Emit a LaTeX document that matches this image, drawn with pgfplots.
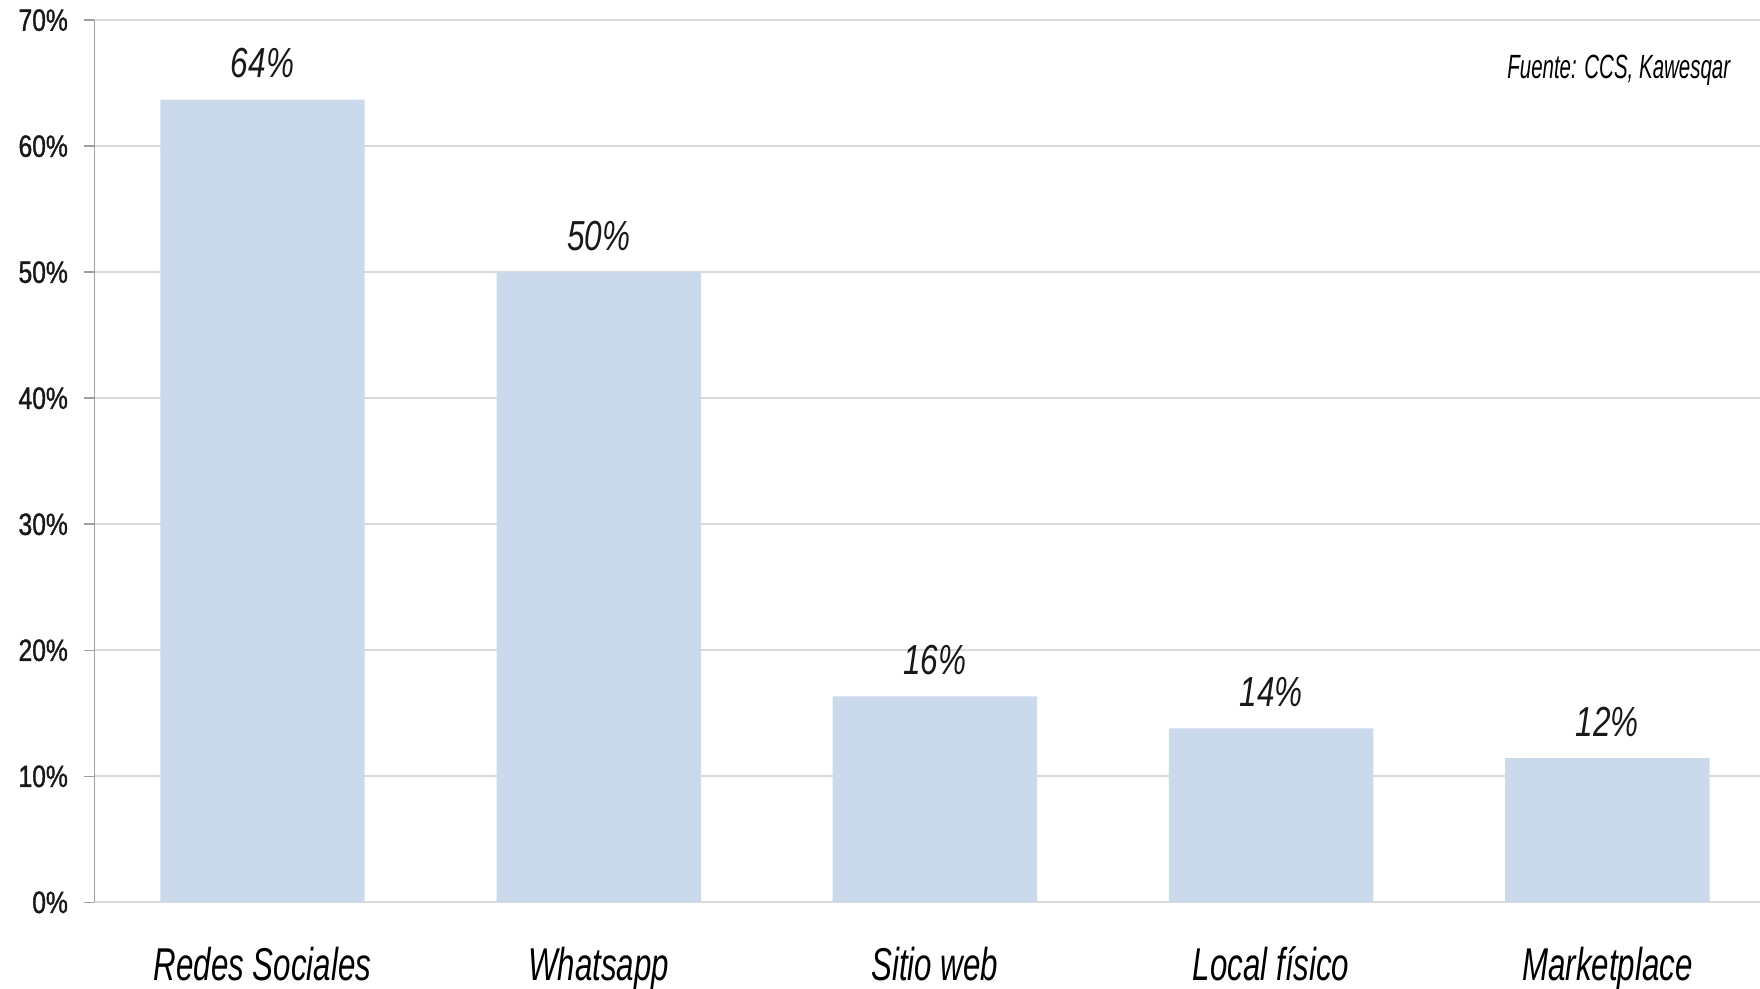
\documentclass[border=0pt]{standalone}
\usepackage{pgfplots}
\pgfplotsset{compat=1.18}
\usepackage{fontspec}
\setmainfont{Liberation Sans}[FakeStretch=0.68]
\newfontfamily\tickfont{Liberation Sans}[FakeStretch=0.8, FakeBold=1.2]
\newfontfamily\labfont{Liberation Sans}[FakeStretch=0.75]
\newfontfamily\srcfont{Liberation Sans}[FakeStretch=0.61]

\definecolor{barblue}{HTML}{CBD9EC}
\definecolor{gridgray}{HTML}{D9D9D9}
\definecolor{axisgray}{HTML}{A0A0A0}

\begin{document}
\begin{tikzpicture}
\begin{axis}[
  scale only axis,
  width=416.4pt, height=220.55pt,
  xmin=-0.5, xmax=4.454,
  ymin=0, ymax=70,
  axis x line*=bottom,
  axis y line*=left,
  x axis line style={gridgray, line width=0.5pt},
  y axis line style={axisgray, line width=0.4pt},
  tick align=outside,
  xtick={0,1,2,3,4},
  xticklabels={Redes Sociales, Whatsapp, Sitio web, Local físico, Marketplace},
  x tick style={draw=none},
  minor xtick={-0.5,0.5,1.5,2.5,3.5},
  minor x tick style={gridgray, line width=0.5pt},
  minor tick length=3.75pt,
  ytick={0,10,...,70},
  /pgf/number format/assume math mode=true,
  yticklabel={\pgfmathprintnumber{\tick}\%},
  y tick style={axisgray, line width=0.4pt},
  major tick length=2.5pt,
  ymajorgrids,
  grid style={gridgray, line width=0.5pt},
  xticklabel style={font=\itshape\fontsize{11.5}{13}\selectfont, anchor=base, yshift=-17pt, text=black},
  yticklabel style={font=\tickfont\fontsize{7.7}{9}\selectfont, anchor=east, xshift=-0.6pt, text=black!90},
  ybar, bar width=0.608,
  point meta=explicit symbolic,
  nodes near coords,
  every node near coord/.append style={font=\labfont\itshape\fontsize{10.5}{12}\selectfont, anchor=south, inner sep=0pt, yshift=5.25pt, text=black!90},
  clip=false,
]
\addplot[fill=barblue, draw=none] coordinates {
  (0,63.7) [64\%]
  (1,50.0) [50\%]
  (2,16.35) [16\%]
  (3,13.8) [14\%]
  (4,11.45) [12\%]
};
\node[anchor=base east, inner sep=0pt, font=\srcfont\itshape\fontsize{8.4}{10}\selectfont]
  at ([xshift=-7.25pt, yshift=-14.5pt]rel axis cs:1,1) {Fuente: CCS, Kawesqar};
\end{axis}
\pgfresetboundingbox
\path ([xshift=-23.6pt, yshift=-21.65pt]current axis.south west) rectangle ([yshift=5.05pt]current axis.north east);
\end{tikzpicture}
\end{document}
